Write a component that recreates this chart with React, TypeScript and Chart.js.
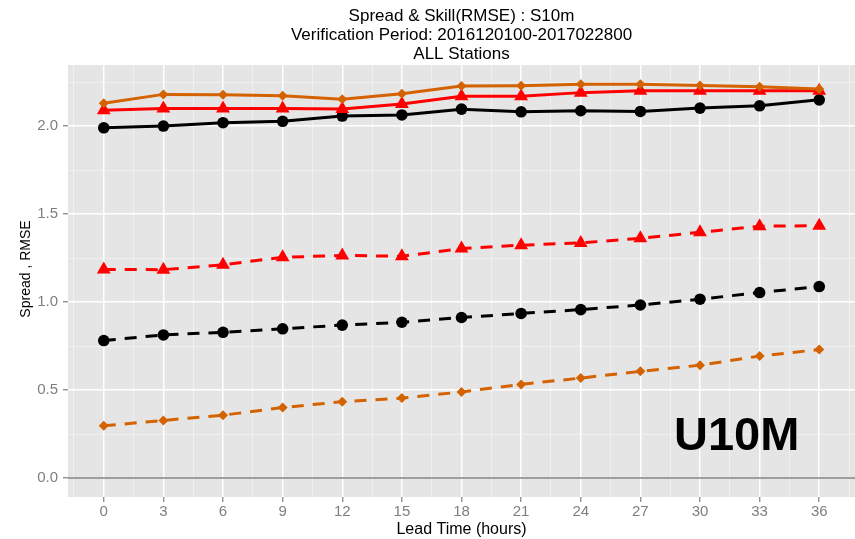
import React, { useEffect, useRef } from "react";
import { Chart, registerables } from "chart.js";

Chart.register(...registerables);

const hours = [0, 3, 6, 9, 12, 15, 18, 21, 24, 27, 30, 33, 36];
const rmseBlack = [1.99, 2.0, 2.019, 2.027, 2.057, 2.063, 2.096, 2.081, 2.087, 2.083, 2.102, 2.115, 2.149];
const rmseRed = [2.09, 2.1, 2.1, 2.1, 2.097, 2.125, 2.17, 2.17, 2.19, 2.2, 2.2, 2.2, 2.2];
const rmseOrange = [2.13, 2.18, 2.178, 2.172, 2.152, 2.183, 2.228, 2.229, 2.237, 2.238, 2.231, 2.224, 2.21];
const spreadRed = [1.185, 1.184, 1.212, 1.254, 1.265, 1.26, 1.304, 1.323, 1.336, 1.362, 1.396, 1.431, 1.434];
const spreadBlack = [0.781, 0.813, 0.828, 0.848, 0.869, 0.885, 0.912, 0.935, 0.957, 0.983, 1.016, 1.054, 1.088];
const spreadOrange = [0.297, 0.327, 0.357, 0.4, 0.434, 0.454, 0.489, 0.532, 0.568, 0.606, 0.641, 0.693, 0.73];

const titleLines = ["Spread & Skill(RMSE) : S10m", "Verification Period: 2016120100-2017022800", "ALL Stations"];
const xTitle = "Lead Time (hours)";
const yTitle = "Spread , RMSE";
const panelLabel = "U10M";

const BLACK = "#000000";
const RED = "#FF0000";
const ORANGE = "#D46200";
const FONT = "'Liberation Sans', Arial, Helvetica, sans-serif";

const pts = (vals: number[]) => vals.map((v, i) => ({ x: hours[i], y: v }));

function mkDs(label: string, vals: number[], color: string, style: string, radius: number, dashed: boolean) {
  return {
    label,
    data: pts(vals),
    borderColor: color,
    backgroundColor: color,
    borderWidth: 3,
    borderDash: dashed ? [12, 9] : [],
    pointStyle: style,
    pointRadius: radius,
    pointBorderWidth: 0,
    pointBackgroundColor: color,
    tension: 0,
  };
}

const isMult = (v: number, m: number) => Math.abs(v / m - Math.round(v / m)) < 1e-6;

const ggPlugin = {
  id: "gg",
  beforeDraw(chart: any) {
    const { ctx, chartArea: a } = chart;
    ctx.save();
    ctx.fillStyle = "#E5E5E5";
    ctx.fillRect(a.left, a.top, a.right - a.left, a.bottom - a.top);
    ctx.restore();
  },
  beforeDatasetsDraw(chart: any) {
    const { ctx, chartArea: a } = chart;
    const y0 = chart.scales.y.getPixelForValue(0);
    ctx.save();
    ctx.strokeStyle = "#808080";
    ctx.lineWidth = 1.6;
    ctx.beginPath();
    ctx.moveTo(a.left, y0);
    ctx.lineTo(a.right, y0);
    ctx.stroke();
    ctx.restore();
  },
  afterDraw(chart: any) {
    const { ctx, chartArea: a } = chart;
    const cx = (a.left + a.right) / 2;
    ctx.save();
    ctx.fillStyle = "#000";
    ctx.textAlign = "center";
    ctx.textBaseline = "middle";
    ctx.font = `17px ${FONT}`;
    titleLines.forEach((t, i) => ctx.fillText(t, cx, 16 + i * 19));
    ctx.font = `16px ${FONT}`;
    ctx.textBaseline = "alphabetic";
    ctx.fillText(xTitle, cx, 534);
    ctx.save();
    ctx.translate(30, 269);
    ctx.rotate(-Math.PI / 2);
    ctx.font = `14px ${FONT}`;
    ctx.fillText(yTitle, 0, 0);
    ctx.restore();
    ctx.font = `bold 47px ${FONT}`;
    ctx.textAlign = "left";
    ctx.fillText(panelLabel, 674, 450);
    ctx.restore();
  },
};

export default function App() {
  const ref = useRef<HTMLCanvasElement | null>(null);
  useEffect(() => {
    document.body.style.margin = "0";
    const canvas = ref.current!;
    const chart = new Chart(canvas, {
      type: "line",
      data: {
        datasets: [
          mkDs("Spread orange", spreadOrange, ORANGE, "rectRot", 5, true),
          mkDs("Spread black", spreadBlack, BLACK, "circle", 5.8, true),
          mkDs("Spread red", spreadRed, RED, "triangle", 8, true),
          mkDs("RMSE orange", rmseOrange, ORANGE, "rectRot", 5, false),
          mkDs("RMSE red", rmseRed, RED, "triangle", 8, false),
          mkDs("RMSE black", rmseBlack, BLACK, "circle", 5.8, false),
        ] as any,
      },
      options: {
        animation: false,
        responsive: false,
        maintainAspectRatio: false,
        layout: { autoPadding: false, padding: { top: 65, left: 0, right: 0, bottom: 0 } },
        plugins: { legend: { display: false }, tooltip: { enabled: false }, title: { display: false } },
        scales: {
          x: {
            type: "linear",
            min: -1.8,
            max: 37.8,
            afterBuildTicks: (s: any) => {
              const t = [];
              for (let v = -1.5; v <= 37.5 + 1e-9; v += 1.5) t.push({ value: v });
              s.ticks = t;
            },
            afterFit: (s: any) => {
              s.height = 42;
              s.paddingLeft = 0;
              s.paddingRight = 0;
            },
            border: { display: false },
            grid: {
              color: (c: any) => (c.tick && isMult(c.tick.value, 3) ? "#FFFFFF" : "#F2F2F2"),
              lineWidth: (c: any) => (c.tick && isMult(c.tick.value, 3) ? 1.5 : 0.8),
              tickColor: (c: any) => (c.tick && isMult(c.tick.value, 3) ? "#7F7F7F" : "rgba(0,0,0,0)"),
              tickLength: 5,
              tickWidth: 1.2,
            },
            ticks: {
              autoSkip: false,
              maxRotation: 0,
              padding: 1,
              color: "#7F7F7F",
              font: { size: 15, family: FONT },
              callback: (v: any) => (isMult(Number(v), 3) ? String(Math.round(Number(v))) : ""),
            },
          },
          y: {
            type: "linear",
            min: -0.108,
            max: 2.347,
            afterBuildTicks: (s: any) => {
              const t = [];
              for (let v = 0; v <= 2.25 + 1e-9; v += 0.25) t.push({ value: v });
              s.ticks = t;
            },
            afterFit: (s: any) => {
              s.width = 68;
              s.paddingTop = 0;
              s.paddingBottom = 0;
            },
            border: { display: false },
            grid: {
              color: (c: any) => (c.tick && isMult(c.tick.value, 0.5) ? "#FFFFFF" : "#F2F2F2"),
              lineWidth: (c: any) => (c.tick && isMult(c.tick.value, 0.5) ? 1.5 : 0.8),
              tickColor: (c: any) => (c.tick && isMult(c.tick.value, 0.5) ? "#7F7F7F" : "rgba(0,0,0,0)"),
              tickLength: 5,
              tickWidth: 1.2,
            },
            ticks: {
              autoSkip: false,
              padding: 5,
              color: "#7F7F7F",
              font: { size: 15, family: FONT },
              callback: (v: any) => (isMult(Number(v), 0.5) ? Number(v).toFixed(1) : ""),
            },
          },
        },
      } as any,
      plugins: [ggPlugin],
    });
    return () => chart.destroy();
  }, []);
  return (
    <div style={{ position: "absolute", left: 0, top: 0, width: 855, height: 539, background: "#fff" }}>
      <canvas ref={ref} width={855} height={539} style={{ display: "block", width: 855, height: 539 }} />
    </div>
  );
}
